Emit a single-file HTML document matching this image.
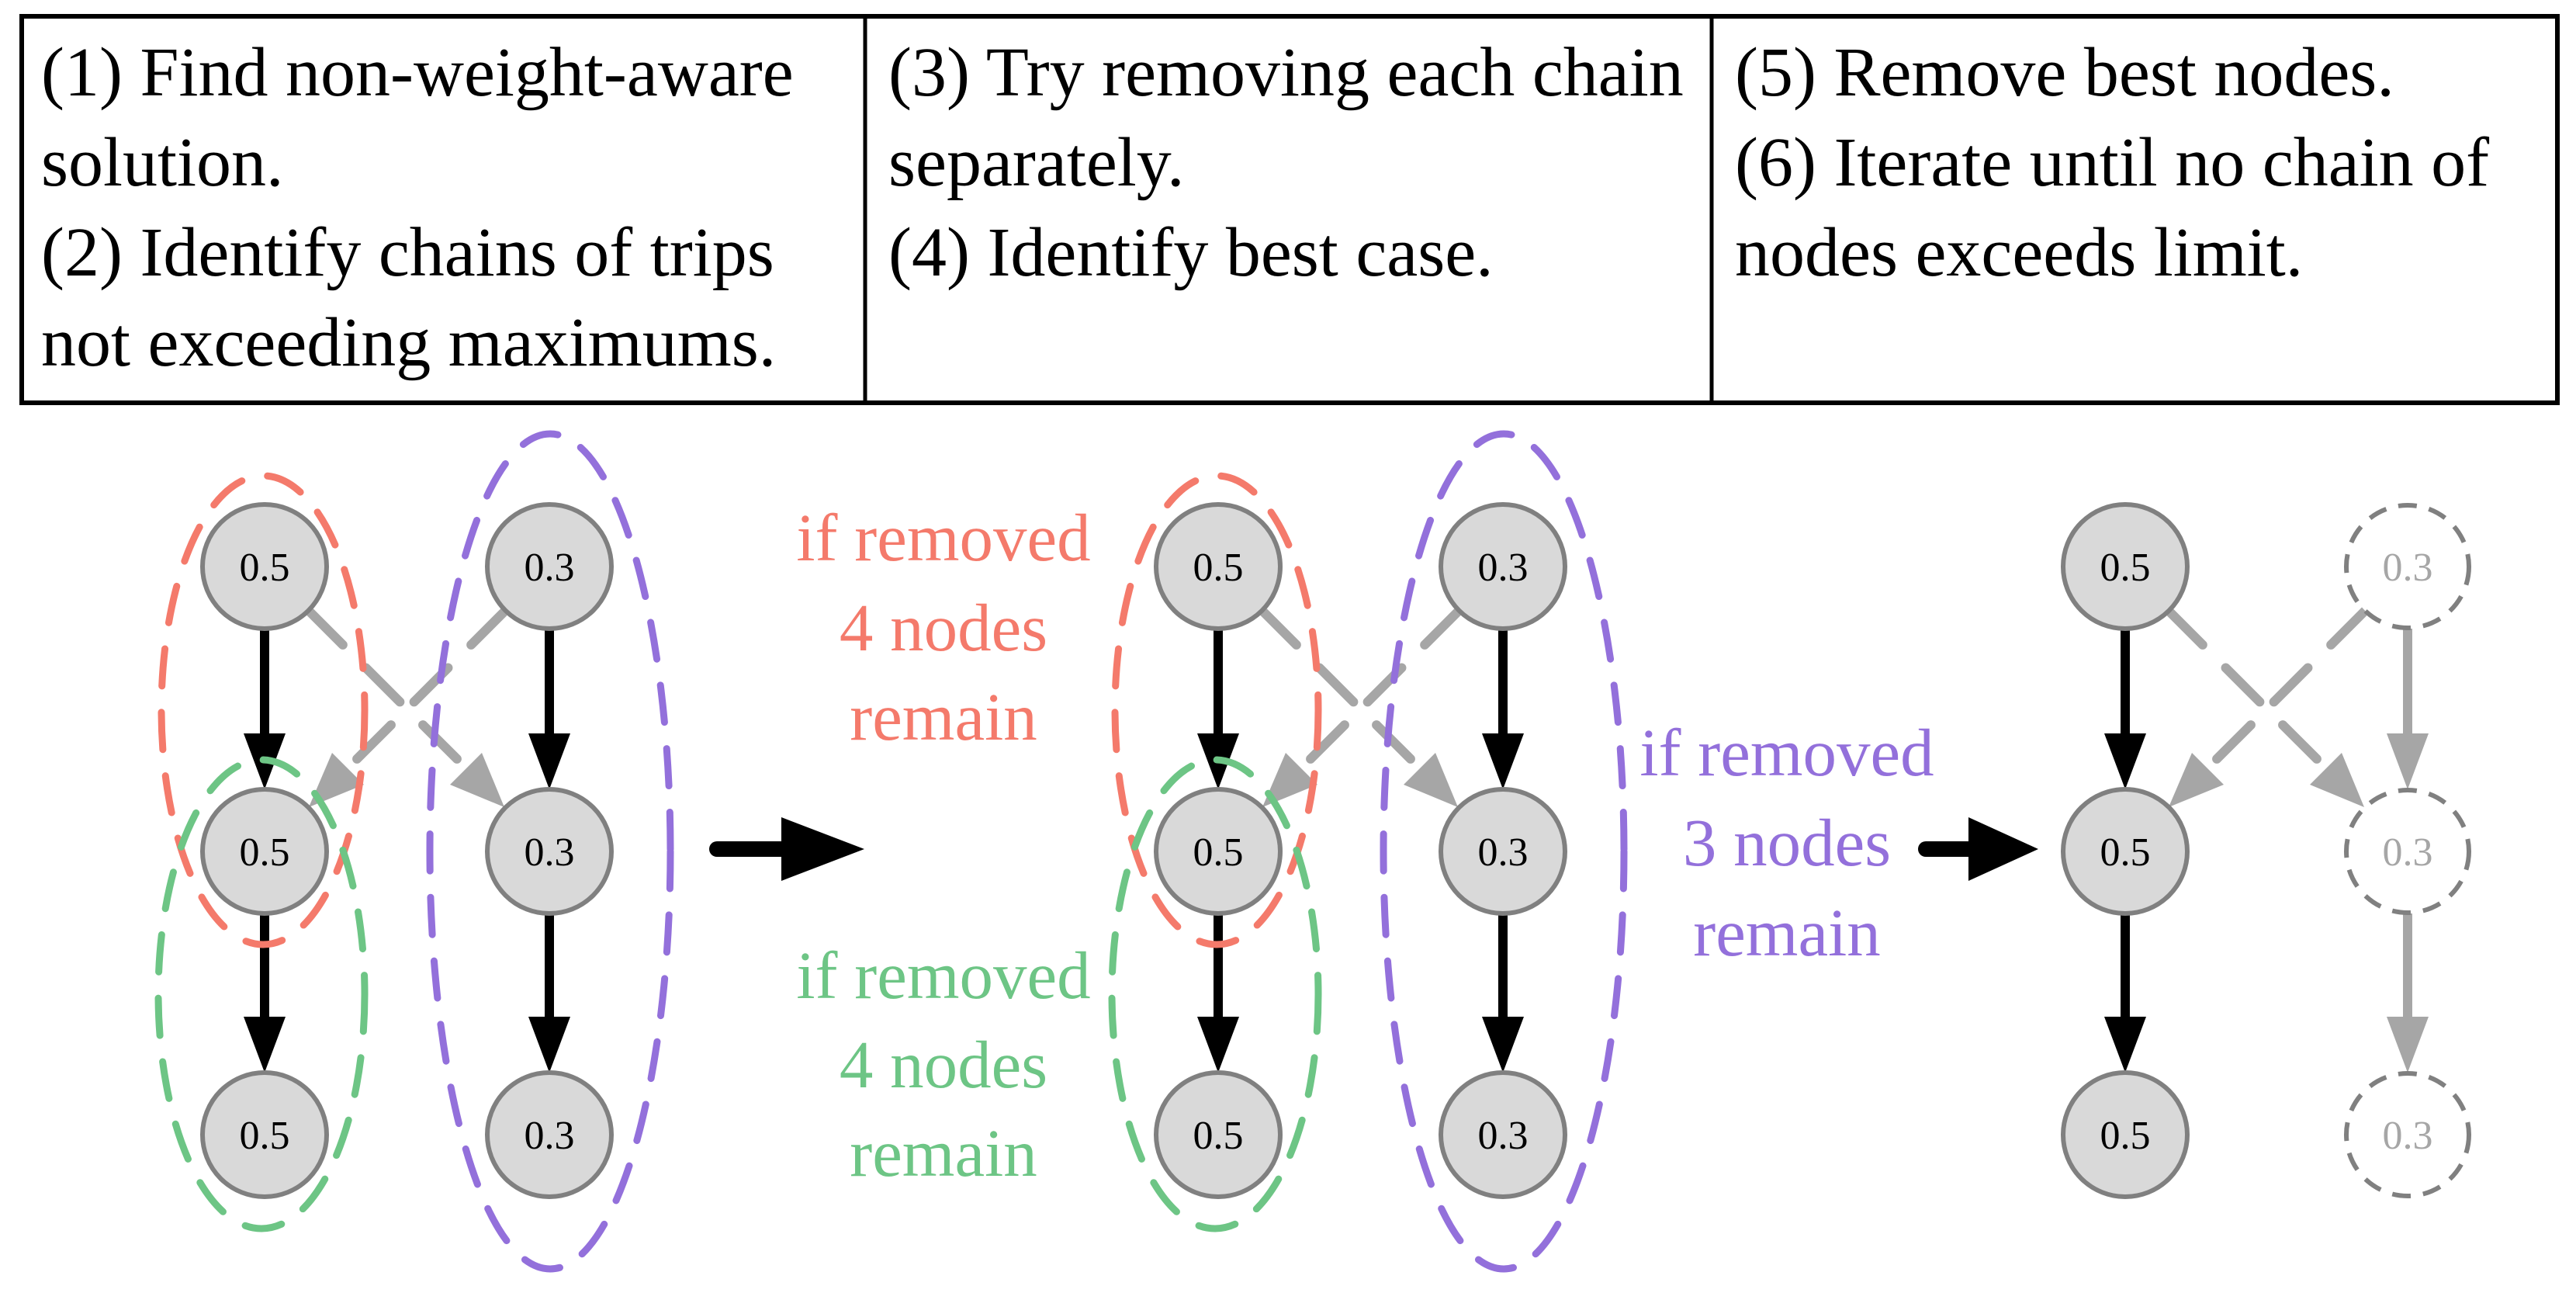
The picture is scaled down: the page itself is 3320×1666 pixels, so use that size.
<!DOCTYPE html>
<html><head><meta charset="utf-8"><style>
html,body{margin:0;padding:0;background:#fff;}
svg{display:block;}
text{font-family:"Liberation Serif",serif;}
</style></head><body>
<svg width="3320" height="1666" viewBox="0 0 3320 1666" xmlns="http://www.w3.org/2000/svg">
<defs>
<g id="crossL">
  <line x1="57" y1="787" x2="259" y2="989" stroke="#a6a6a6" stroke-width="12" stroke-dasharray="62 42" stroke-linecap="round"/>
  <polygon points="309,1040 239,1011 280,970" fill="#a6a6a6"/>
  <line x1="310" y1="787" x2="108" y2="989" stroke="#a6a6a6" stroke-width="12" stroke-dasharray="62 42" stroke-linecap="round"/>
  <polygon points="57,1040 87,970 128,1011" fill="#a6a6a6"/>
</g>
<g id="blackArrow">
  <line x1="0" y1="810" x2="0" y2="950" stroke="#000" stroke-width="12"/>
  <polygon points="-27,945 27,945 0,1017" fill="#000"/>
</g>
<g id="node">
  <circle r="80" fill="#d9d9d9" stroke="#808080" stroke-width="6"/>
</g>
</defs>

<rect x="28" y="21" width="3268" height="498" fill="none" stroke="#000" stroke-width="6"/>
<line x1="1115" y1="21" x2="1115" y2="519" stroke="#000" stroke-width="5"/>
<line x1="2206" y1="21" x2="2206" y2="519" stroke="#000" stroke-width="5"/>
<g font-size="90" fill="#000">
<text x="53" y="123">(1) Find non-weight-aware</text>
<text x="53" y="239">solution.</text>
<text x="53" y="355">(2) Identify chains of trips</text>
<text x="53" y="471">not exceeding maximums.</text>
<text x="1145" y="123">(3) Try removing each chain</text>
<text x="1145" y="239">separately.</text>
<text x="1145" y="355">(4) Identify best case.</text>
<text x="2236" y="123">(5) Remove best nodes.</text>
<text x="2236" y="239">(6) Iterate until no chain of</text>
<text x="2236" y="355">nodes exceeds limit.</text>
</g>

<g transform="translate(341,0)">
  <use href="#crossL"/>
  <use href="#blackArrow"/>
  <use href="#blackArrow" transform="translate(0,365)"/>
  <use href="#blackArrow" transform="translate(367,0)"/>
  <use href="#blackArrow" transform="translate(367,365)"/>
  <use href="#node" x="0" y="730"/><use href="#node" x="0" y="1097"/><use href="#node" x="0" y="1462"/>
  <use href="#node" x="367" y="730"/><use href="#node" x="367" y="1097"/><use href="#node" x="367" y="1462"/>
  <g font-size="52" text-anchor="middle" fill="#000">
    <text x="0" y="748">0.5</text><text x="0" y="1115">0.5</text><text x="0" y="1480">0.5</text>
    <text x="367" y="748">0.3</text><text x="367" y="1115">0.3</text><text x="367" y="1480">0.3</text>
  </g>
  <g fill="none" stroke-width="9" stroke-dasharray="48 34" stroke-linecap="round">
    <ellipse cx="-2" cy="915" rx="131" ry="302" stroke="#f47a6b"/>
    <ellipse cx="-4" cy="1281" rx="133" ry="302" stroke="#6dc585"/>
    <ellipse cx="368" cy="1097" rx="155" ry="538" stroke="#9370db"/>
  </g>
</g>

<g transform="translate(1570,0)">
  <use href="#crossL"/>
  <use href="#blackArrow"/>
  <use href="#blackArrow" transform="translate(0,365)"/>
  <use href="#blackArrow" transform="translate(367,0)"/>
  <use href="#blackArrow" transform="translate(367,365)"/>
  <use href="#node" x="0" y="730"/><use href="#node" x="0" y="1097"/><use href="#node" x="0" y="1462"/>
  <use href="#node" x="367" y="730"/><use href="#node" x="367" y="1097"/><use href="#node" x="367" y="1462"/>
  <g font-size="52" text-anchor="middle" fill="#000">
    <text x="0" y="748">0.5</text><text x="0" y="1115">0.5</text><text x="0" y="1480">0.5</text>
    <text x="367" y="748">0.3</text><text x="367" y="1115">0.3</text><text x="367" y="1480">0.3</text>
  </g>
  <g fill="none" stroke-width="9" stroke-dasharray="48 34" stroke-linecap="round">
    <ellipse cx="-2" cy="915" rx="131" ry="302" stroke="#f47a6b"/>
    <ellipse cx="-4" cy="1281" rx="133" ry="302" stroke="#6dc585"/>
    <ellipse cx="368" cy="1097" rx="155" ry="538" stroke="#9370db"/>
  </g>
</g>

<g transform="translate(2739,0)">
  <use href="#crossL" transform="translate(-1,0)"/>
  <use href="#blackArrow"/>
  <use href="#blackArrow" transform="translate(0,365)"/>
  <line x1="364" y1="810" x2="364" y2="950" stroke="#a6a6a6" stroke-width="12"/>
  <polygon points="337,945 391,945 364,1017" fill="#a6a6a6"/>
  <line x1="364" y1="1177" x2="364" y2="1315" stroke="#a6a6a6" stroke-width="12"/>
  <polygon points="337,1310 391,1310 364,1382" fill="#a6a6a6"/>
  <use href="#node" x="0" y="730"/><use href="#node" x="0" y="1097"/><use href="#node" x="0" y="1462"/>
  <g fill="#fff" stroke="#808080" stroke-width="6" stroke-dasharray="24 16">
    <circle cx="364" cy="730" r="79"/><circle cx="364" cy="1097" r="79"/><circle cx="364" cy="1462" r="79"/>
  </g>
  <g font-size="52" text-anchor="middle">
    <text x="0" y="748" fill="#000">0.5</text><text x="0" y="1115" fill="#000">0.5</text><text x="0" y="1480" fill="#000">0.5</text>
    <text x="364" y="748" fill="#a6a6a6">0.3</text><text x="364" y="1115" fill="#a6a6a6">0.3</text><text x="364" y="1480" fill="#a6a6a6">0.3</text>
  </g>
</g>

<line x1="924" y1="1094" x2="1010" y2="1094" stroke="#000" stroke-width="20" stroke-linecap="round"/>
<polygon points="1007,1053 1007,1135 1114,1094" fill="#000"/>
<line x1="2482" y1="1094" x2="2540" y2="1094" stroke="#000" stroke-width="20" stroke-linecap="round"/>
<polygon points="2537,1053 2537,1135 2627,1094" fill="#000"/>

<g font-size="87" text-anchor="middle">
  <g fill="#f47a6b">
    <text x="1216" y="722">if removed</text><text x="1216" y="838">4 nodes</text><text x="1216" y="953">remain</text>
  </g>
  <g fill="#6dc585">
    <text x="1216" y="1286">if removed</text><text x="1216" y="1401">4 nodes</text><text x="1216" y="1515">remain</text>
  </g>
  <g fill="#9370db">
    <text x="2303" y="999">if removed</text><text x="2303" y="1115">3 nodes</text><text x="2303" y="1231">remain</text>
  </g>
</g>
</svg>
</body></html>
